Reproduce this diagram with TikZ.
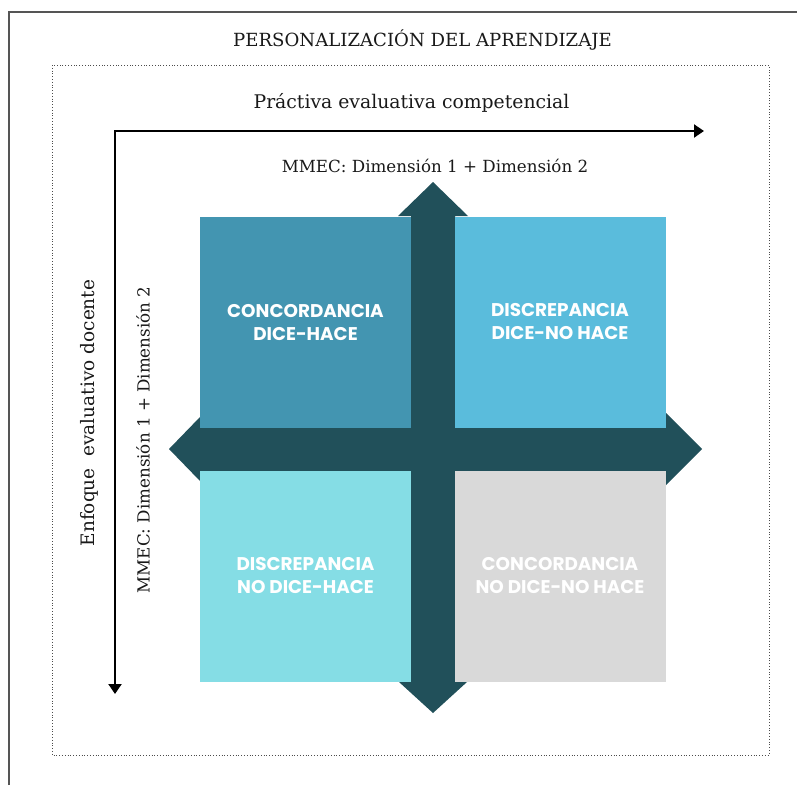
\documentclass[tikz,border=0pt]{standalone}
\usepackage{fontspec}
\setmainfont{DejaVu Serif}
\newfontfamily\boxfont{Poppins}
\usetikzlibrary{arrows.meta}
\definecolor{crossc}{HTML}{21505A}
\definecolor{tlc}{HTML}{4395B1}
\definecolor{trc}{HTML}{5ABCDC}
\definecolor{blc}{HTML}{85DDE5}
\definecolor{brc}{HTML}{D9D9D9}
\definecolor{framec}{HTML}{555555}
\tikzset{
  quad/.style={minimum width=211pt, minimum height=211pt, inner sep=0pt, align=center,
    text=white, font=\boxfont\bfseries\fontsize{18.4}{23}\selectfont},
  serifbase/.style={inner sep=0pt, text=black!90},
  axisline/.style={line width=2pt, {Triangle[length=10pt,width=13pt]}-{Triangle[length=10pt,width=13pt]}}
}
\begin{document}
\begin{tikzpicture}[x=1pt,y=-1pt]
\useasboundingbox (0,0) rectangle (797,785);
% outer frame
\draw[framec, line width=1.2pt] (9,785) -- (9,12) -- (797,12);
% dotted inner frame
\draw[black!70, dotted, line width=0.8pt] (52,65) rectangle (769,755);
% texts
\node[serifbase, font=\fontsize{18.1}{21}\selectfont] (title) at (422.5,40) {PERSONALIZACIÓN DEL APRENDIZAJE};
\node[serifbase, font=\fontsize{18.8}{22}\selectfont] (xlabel) at (411.5,103) {Práctiva evaluativa competencial};
\node[serifbase, font=\fontsize{16.7}{20}\selectfont] (xsub) at (435,166) {MMEC: Dimensión 1 + Dimensión 2};
\node[serifbase, font=\fontsize{18.5}{22}\selectfont, rotate=90] (ylabel) at (89,413) {Enfoque\ \ evaluativo docente};
\node[serifbase, font=\fontsize{16.7}{20}\selectfont, rotate=90] (ysub) at (143,440) {MMEC: Dimensión 1 + Dimensión 2};
% axes
\coordinate (origin) at (115,131);
\coordinate (xend) at (704,131);
\coordinate (yend) at (115,694);
\draw[axisline] (xend) -- (origin) -- (yend);
% cross
\fill[crossc] (433,182) -- (468,216) -- (455,216) -- (455,427) -- (666,427) -- (666,413)
  -- (702,449) -- (666,485) -- (666,471) -- (455,471) -- (455,682) -- (467,682)
  -- (433,713) -- (399,682) -- (411,682) -- (411,471) -- (200,471) -- (200,481)
  -- (169,449) -- (200,417) -- (200,427) -- (411,427) -- (411,216) -- (398,216) -- cycle;
% quadrants
\node[quad, fill=tlc] (tl) at (305.5,322) {CONCORDANCIA\\DICE-HACE};
\node[quad, fill=trc] (tr) at (560,322) {DISCREPANCIA\\DICE-NO HACE};
\node[quad, fill=blc] (bl) at (305.5,576) {DISCREPANCIA\\NO DICE-HACE};
\node[quad, fill=brc] (br) at (560,576) {CONCORDANCIA\\NO DICE-NO HACE};
\end{tikzpicture}
\end{document}
